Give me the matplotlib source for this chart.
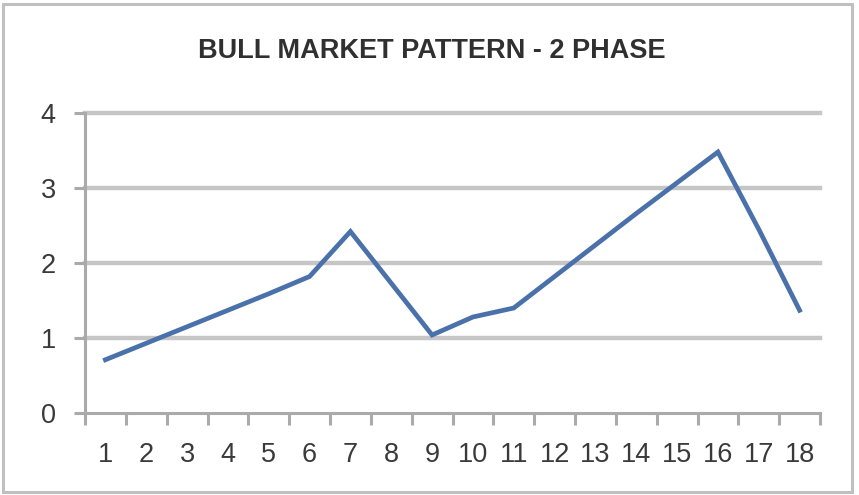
import matplotlib.pyplot as plt
from matplotlib.patches import Rectangle
from matplotlib.ticker import FixedLocator

# =====================================================
# DATA
# =====================================================
periods = [str(i) for i in range(1, 19)]
values = [0.71, 0.93, 1.15, 1.37, 1.59, 1.82, 2.42, 1.73, 1.04,
          1.28, 1.40, 1.82, 2.24, 2.66, 3.07, 3.48, 2.45, 1.37]
y_ticks = [0, 1, 2, 3, 4]
title = "BULL MARKET PATTERN - 2 PHASE"

# =====================================================
# STYLE
# =====================================================
line_color = "#4A71AA"
grid_color = "#C6C6C6"
axis_color = "#AAAAAA"
text_color = "#3A3A3A"
plt.rcParams["font.family"] = ["Liberation Sans", "DejaVu Sans"]

# =====================================================
# PLOT
# =====================================================
fig = plt.figure(figsize=(8.59, 4.95), dpi=100)
ax = fig.add_axes([85 / 859, 1 - 413 / 495, 735 / 859, 300 / 495])

x = list(range(1, len(periods) + 1))

# gridlines
for yv in y_ticks[1:]:
    ax.axhline(yv, color=grid_color, linewidth=3.2, clip_on=False, zorder=1)

ax.plot(x, values, color=line_color, linewidth=3.4, zorder=3,
        solid_joinstyle="miter")

ax.set_xlim(0.5, len(periods) + 0.5)
ax.set_ylim(0, 4)

# x axis: labels at categories, marks between them
ax.set_xticks(x)
ax.set_xticklabels(periods)
ax.xaxis.set_minor_locator(FixedLocator([i + 0.5 for i in range(0, len(periods) + 1)]))
ax.tick_params(axis="x", which="major", length=0, pad=21,
               labelsize=19.5, labelcolor=text_color)
ax.tick_params(axis="x", which="minor", length=8.5, width=2.2,
               color=axis_color, direction="out")

# y axis
ax.set_yticks(y_ticks)
ax.tick_params(axis="y", which="major", length=8, width=2.2,
               color=axis_color, direction="out", pad=13,
               labelsize=19.5, labelcolor=text_color)

for side in ["top", "right"]:
    ax.spines[side].set_visible(False)
for side in ["left", "bottom"]:
    ax.spines[side].set_color(axis_color)
    ax.spines[side].set_linewidth(2.2)

# =====================================================
# TITLE + CHART BORDER
# =====================================================
fig.text(0.503, 1 - 51 / 495, title, ha="center", va="center",
         fontsize=19.5, fontweight="bold", color="#303030")

fig.patches.append(Rectangle((3 / 859, 3 / 495), 849 / 859, 488 / 495,
                             transform=fig.transFigure, fill=False,
                             edgecolor="#C0C0C0", linewidth=2.2))

fig.savefig("out.png", dpi=100)
